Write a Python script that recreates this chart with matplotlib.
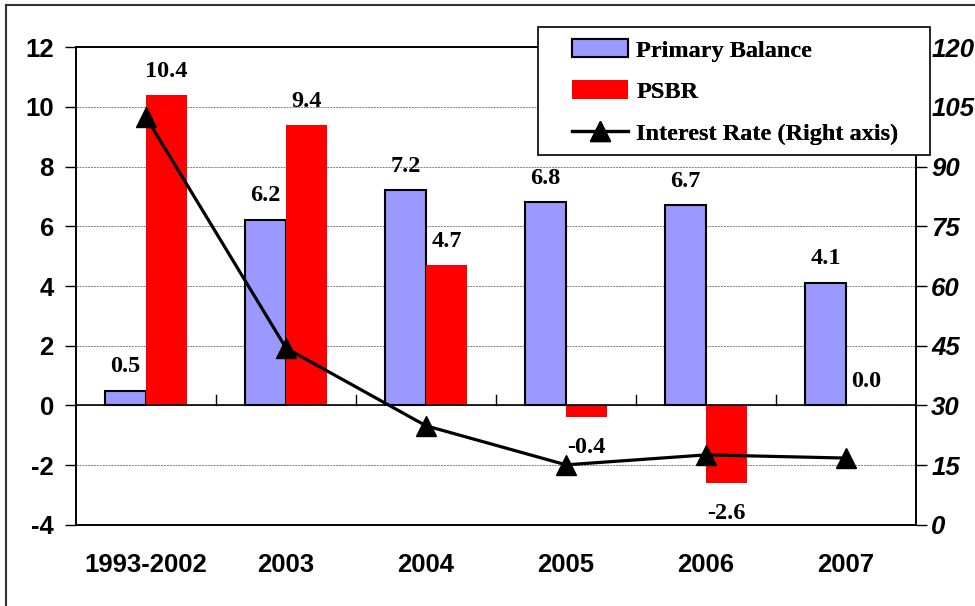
import matplotlib
matplotlib.use("Agg")
import matplotlib.pyplot as plt
import numpy as np

plt.rcParams["axes.unicode_minus"] = False

categorias = ["1993-2002", "2003", "2004", "2005", "2006", "2007"]
primary_balance = [0.5, 6.2, 7.2, 6.8, 6.7, 4.1]
psbr = [10.4, 9.4, 4.7, -0.4, -2.6, 0.0]
interest_rate = [102.4, 44.4, 24.9, 15.1, 17.6, 16.8]

fig = plt.figure(figsize=(9.75, 6.06), dpi=100)
ax = fig.add_axes([0.078, 0.1337, 0.8615, 0.7887])

x = np.arange(len(categorias))
ancho = 0.293

ax.bar(x - ancho/2, primary_balance, ancho, color="#9999FF", edgecolor="black",
       linewidth=1.5, label="Primary Balance", zorder=3)
ax.bar(x + ancho/2, psbr, ancho, color="#FF0000", label="PSBR", zorder=3)

ax.set_xlim(-0.5, len(categorias) - 0.5)
ax.set_ylim(-4, 12)
ax.set_yticks(np.arange(-4, 13, 2))
ax.yaxis.grid(True, linestyle=(0, (2, 1)), color="gray", linewidth=0.7, zorder=0)
ax.axhline(0, color="black", linewidth=1.2, zorder=4)
for b in np.arange(0.5, len(categorias) - 0.5, 1):
    ax.plot([b, b], [0, 0.35], color="black", linewidth=1, zorder=4)

ax.set_xticks(x)
ax.set_xticklabels(categorias, fontfamily="Liberation Sans", fontweight="bold", fontsize=18.5)
ax.tick_params(axis="x", length=0, pad=20)
ax.tick_params(axis="y", direction="out", length=8, width=1, pad=8)
for lab in ax.get_yticklabels():
    lab.set_fontfamily("Liberation Sans")
    lab.set_fontweight("bold")
    lab.set_fontsize(18.5)
for s in ax.spines.values():
    s.set_linewidth(1.2)

# etiquetas de datos
fuente = dict(fontfamily="Liberation Serif", fontweight="bold", fontsize=17.5,
              ha="center", va="center", textcoords="offset points")
for i in range(len(categorias)):
    ax.annotate(f"{primary_balance[i]:.1f}", (x[i] - ancho/2, primary_balance[i]),
                xytext=(0, 17.5), **fuente)
    if psbr[i] < 0:
        ax.annotate(f"{psbr[i]:.1f}", (x[i] + ancho/2, psbr[i]), xytext=(0, -22), **fuente)
    else:
        ax.annotate(f"{psbr[i]:.1f}", (x[i] + ancho/2, psbr[i]), xytext=(0, 17), **fuente)

ax2 = ax.twinx()
ax2.set_ylim(0, 120)
ax2.set_yticks(np.arange(0, 121, 15))
ax2.plot(x, interest_rate, color="black", linewidth=2.3, marker="^", markersize=15,
         label="Interest Rate (Right axis)", zorder=5)
ax2.tick_params(axis="y", direction="out", length=8, width=1, pad=3)
for lab in ax2.get_yticklabels():
    lab.set_fontfamily("Liberation Sans")
    lab.set_fontweight("bold")
    lab.set_fontstyle("italic")
    lab.set_fontsize(18.5)
for s in ax2.spines.values():
    s.set_linewidth(1.2)

# leyenda con marco dibujado aparte (más margen a los lados)
h1, l1 = ax.get_legend_handles_labels()
h2, l2 = ax2.get_legend_handles_labels()
leg = fig.legend(h1 + h2, l1 + l2, loc="upper left", bbox_to_anchor=(0.5867, 0.936),
                 prop=dict(family="Liberation Serif", weight="bold", size=17.5),
                 frameon=False, handlelength=2.3, handleheight=0.8, handletextpad=0.35,
                 labelspacing=0.78, borderpad=0, borderaxespad=0)
leg.set_zorder(11)
marco = plt.Rectangle((538/975, 1 - 155/606), 392/975, 128/606, transform=fig.transFigure,
                      facecolor="white", edgecolor="black", linewidth=1.2, zorder=10)
fig.add_artist(marco)
fig.add_artist(leg)

# marco de la figura (solo arriba e izquierda)
fig.add_artist(plt.Line2D([0.006, 1.0], [0.991, 0.991], color="#333333", linewidth=1.5))
fig.add_artist(plt.Line2D([0.006, 0.006], [0.0, 0.991], color="#333333", linewidth=1.5))

plt.savefig("out.png", dpi=100)
